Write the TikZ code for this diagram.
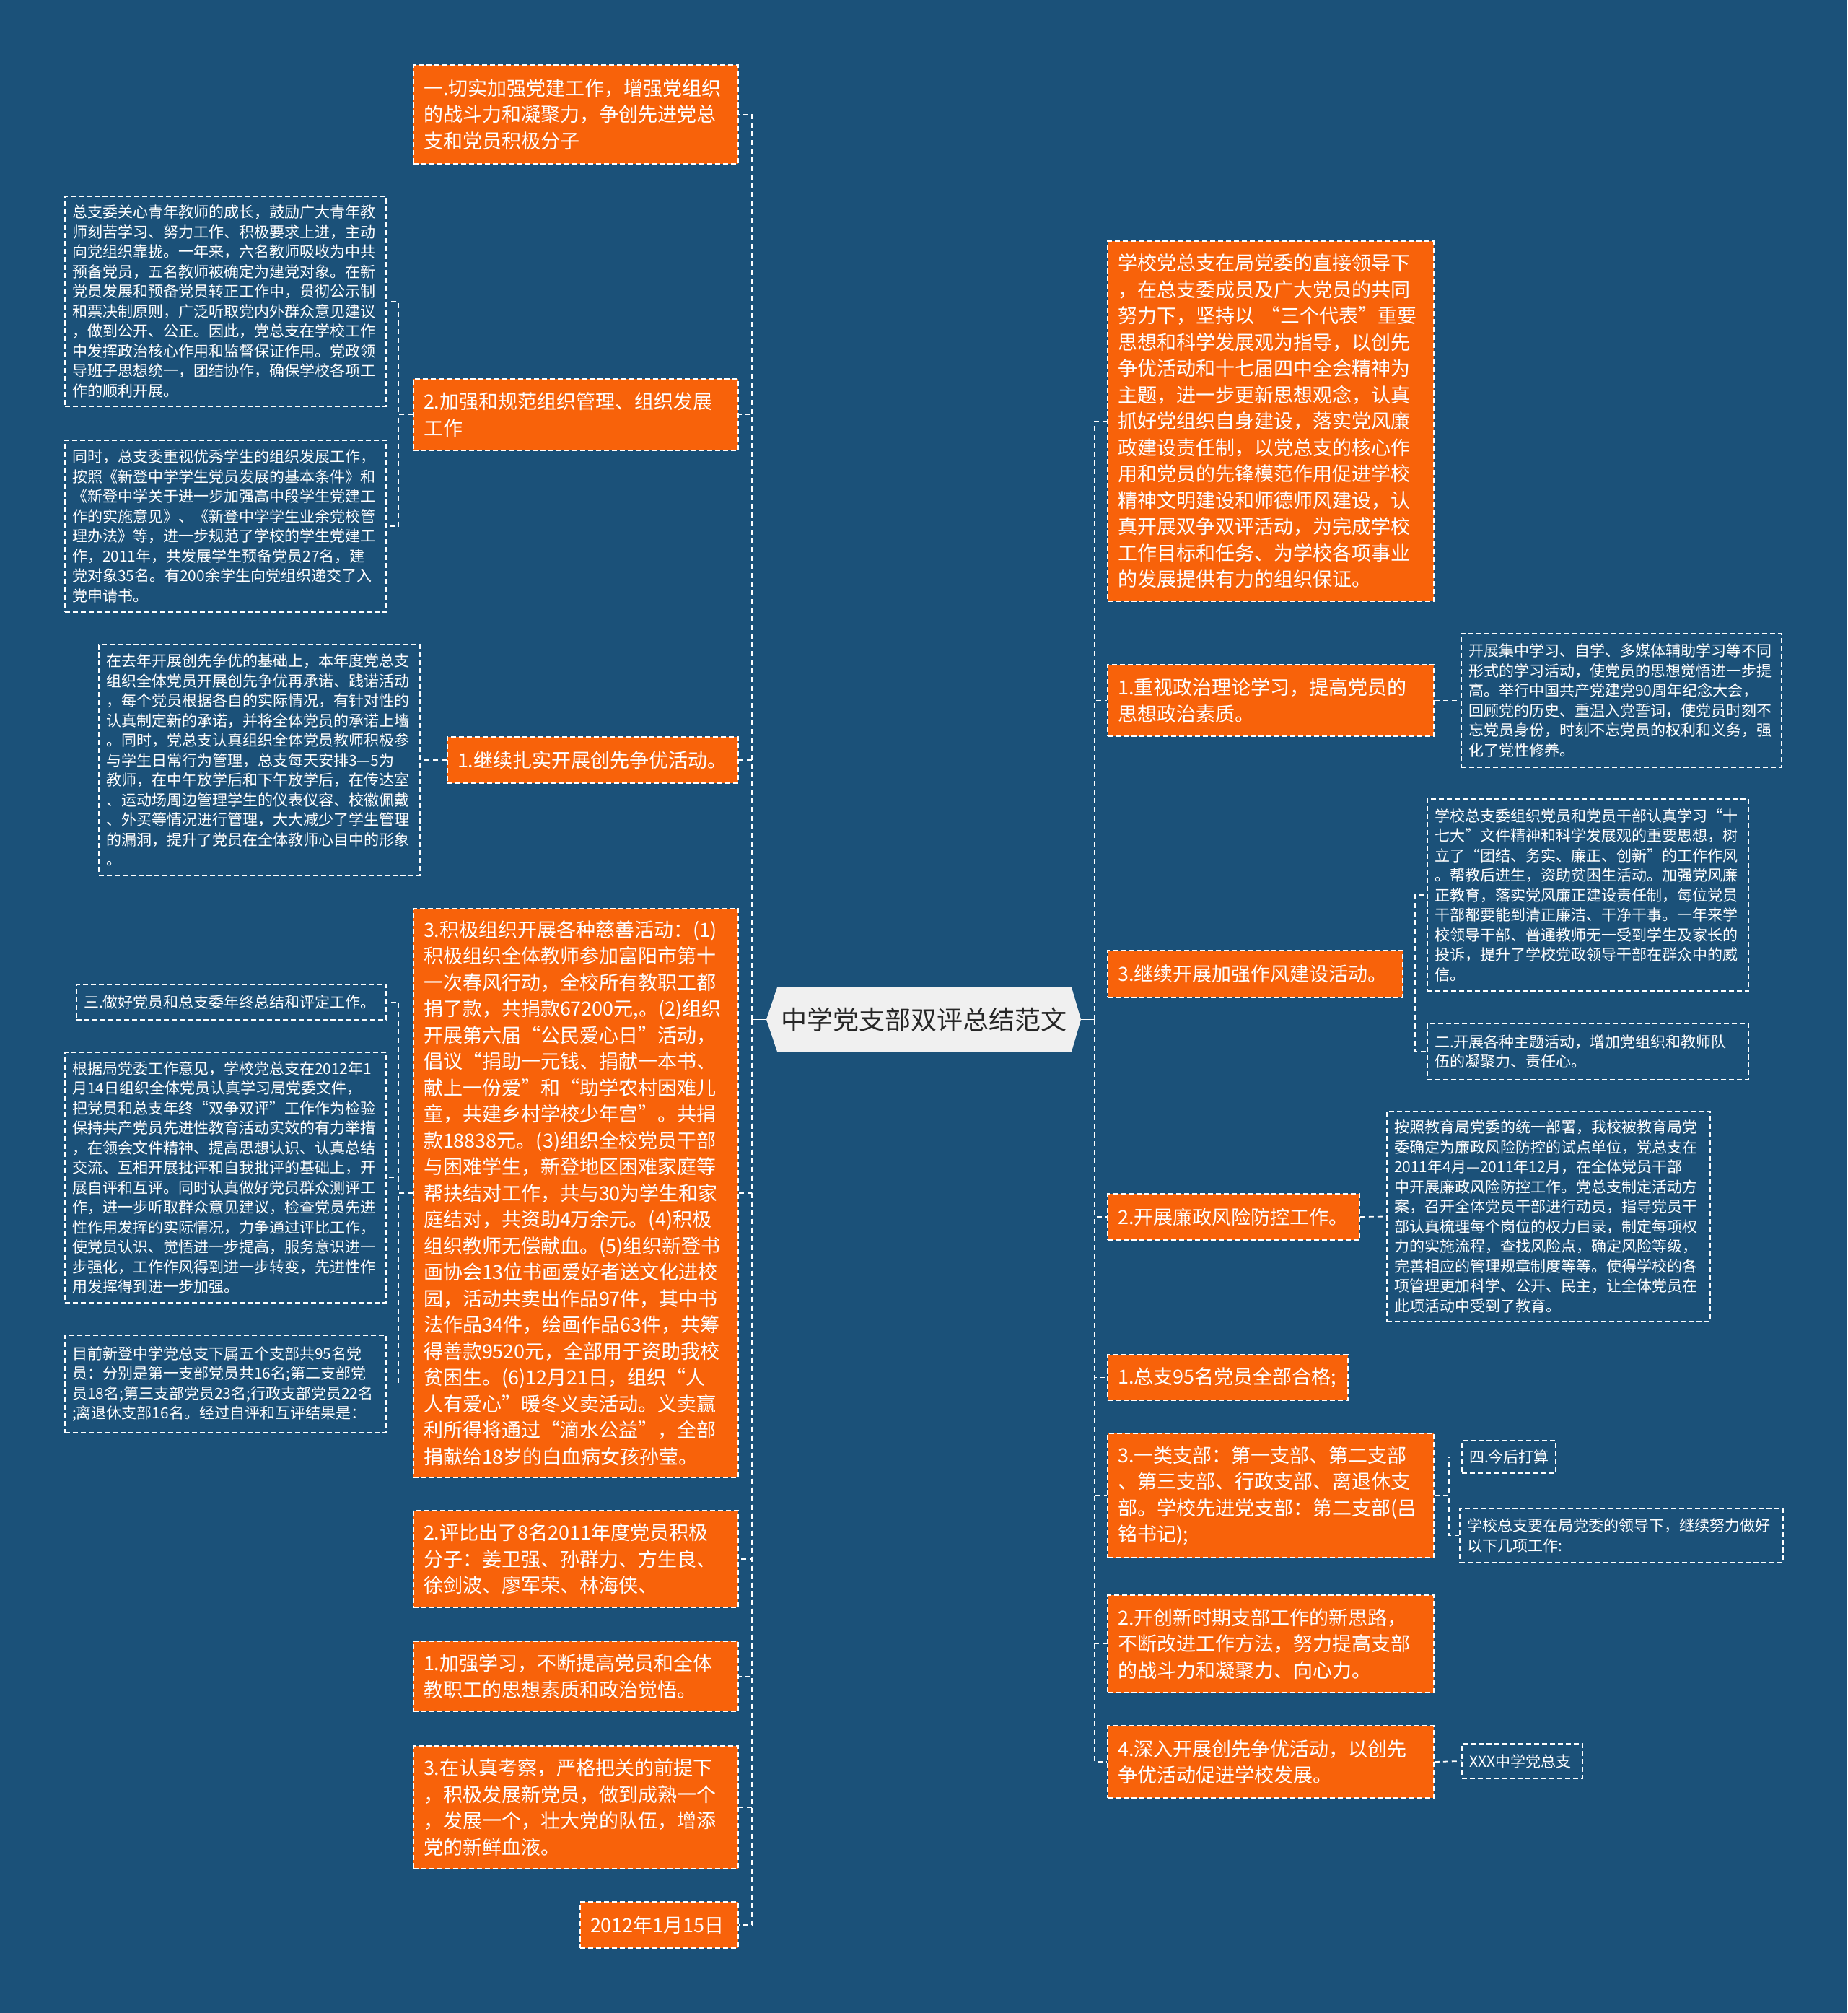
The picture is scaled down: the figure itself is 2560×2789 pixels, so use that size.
\documentclass[tikz,border=0pt]{standalone}
\usepackage{fontspec}
\setmainfont{Noto Sans CJK SC}
\definecolor{bgc}{HTML}{1B5179}
\definecolor{orc}{HTML}{F8620A}
\definecolor{rootc}{HTML}{F0F0F0}
\definecolor{roottext}{HTML}{262626}
\tikzset{
  conn/.style={draw=white, line width=1.8pt, dash pattern=on 7pt off 5pt},
  ob/.style={fill=orc, draw=white, line width=1.5pt, dash pattern=on 7pt off 4pt,
    text=white, font=\fontsize{27}{36.5}\selectfont, align=left, inner sep=0pt},
  sb/.style={draw=white, line width=1.5pt, dash pattern=on 7pt off 4pt,
    text=white, font=\fontsize{21}{27.5}\selectfont, align=left, inner sep=0pt},
}
\newcommand\orgbox[6]{%
  \pgfmathsetmacro\bxw{#4-#2}%
  \pgfmathsetmacro\bxh{#5-#3}%
  \pgfmathsetmacro\bxt{#4-#2-28}%
  \pgfmathsetmacro\bxcx{(#2+#4)/2}%
  \pgfmathsetmacro\bxcy{(#3+#5)/2}%
  \node[ob, minimum width=\bxw pt, minimum height=\bxh pt, text width=\bxt pt] (#1) at (\bxcx,\bxcy) {#6};}
\newcommand\txtbox[6]{%
  \pgfmathsetmacro\bxw{#4-#2}%
  \pgfmathsetmacro\bxh{#5-#3}%
  \pgfmathsetmacro\bxt{#4-#2-20}%
  \pgfmathsetmacro\bxcx{(#2+#4)/2}%
  \pgfmathsetmacro\bxcy{(#3+#5)/2}%
  \node[sb, minimum width=\bxw pt, minimum height=\bxh pt, text width=\bxt pt] (#1) at (\bxcx,\bxcy) {#6};}
\begin{document}
\begin{tikzpicture}[x=1pt,y=-1pt]
\fill[bgc] (0,0) rectangle (2560,2789);
\useasboundingbox (0,0) rectangle (2560,2789);

% root
\fill[rootc] (1062,1412.5) -- (1077,1368) -- (1485,1368) -- (1498,1412.5) -- (1485,1457) -- (1077,1457) -- cycle;
\node[minimum width=436pt, minimum height=89pt, inner sep=0pt, text=roottext,
  font=\fontsize{36}{42}\selectfont] (root) at (1280,1412.5) {中学党支部双评总结范文};
\coordinate (tl) at (1042,1412.5);
\coordinate (tr) at (1517,1412.5);

% left main nodes
\orgbox{L1}{573}{90}{1023}{227}{一.切实加强党建工作，增强党组织\\的战斗力和凝聚力，争创先进党总\\支和党员积极分子}
\orgbox{L2}{573}{525}{1023}{624}{2.加强和规范组织管理、组织发展\\工作}
\orgbox{L3}{620}{1021}{1023}{1085}{1.继续扎实开展创先争优活动。}
\orgbox{L4}{573}{1259}{1023}{2047}{3.积极组织开展各种慈善活动：(1)\\积极组织全体教师参加富阳市第十\\一次春风行动，全校所有教职工都\\捐了款，共捐款67200元,。(2)组织\\开展第六届“公民爱心日”活动，\\倡议“捐助一元钱、捐献一本书、\\献上一份爱”和“助学农村困难儿\\童，共建乡村学校少年宫”。共捐\\款18838元。(3)组织全校党员干部\\与困难学生，新登地区困难家庭等\\帮扶结对工作，共与30为学生和家\\庭结对，共资助4万余元。(4)积极\\组织教师无偿献血。(5)组织新登书\\画协会13位书画爱好者送文化进校\\园，活动共卖出作品97件，其中书\\法作品34件，绘画作品63件，共筹\\得善款9520元，全部用于资助我校\\贫困生。(6)12月21日，组织“人\\人有爱心”暖冬义卖活动。义卖赢\\利所得将通过“滴水公益”，全部\\捐献给18岁的白血病女孩孙莹。}
\orgbox{L5}{573}{2093}{1023}{2227}{2.评比出了8名2011年度党员积极\\分子：姜卫强、孙群力、方生良、\\徐剑波、廖军荣、林海侠、}
\orgbox{L6}{573}{2274}{1023}{2371}{1.加强学习，不断提高党员和全体\\教职工的思想素质和政治觉悟。}
\orgbox{L7}{573}{2419}{1023}{2589}{3.在认真考察，严格把关的前提下\\，积极发展新党员，做到成熟一个\\，发展一个，壮大党的队伍，增添\\党的新鲜血液。}
\orgbox{L8}{804}{2635}{1023}{2699}{2012年1月15日}

% left sub nodes
\txtbox{c1}{90}{272}{535}{563}{总支委关心青年教师的成长，鼓励广大青年教\\师刻苦学习、努力工作、积极要求上进，主动\\向党组织靠拢。一年来，六名教师吸收为中共\\预备党员，五名教师被确定为建党对象。在新\\党员发展和预备党员转正工作中，贯彻公示制\\和票决制原则，广泛听取党内外群众意见建议\\，做到公开、公正。因此，党总支在学校工作\\中发挥政治核心作用和监督保证作用。党政领\\导班子思想统一，团结协作，确保学校各项工\\作的顺利开展。}
\txtbox{c2}{90}{610}{535}{848}{同时，总支委重视优秀学生的组织发展工作，\\按照《新登中学学生党员发展的基本条件》和\\《新登中学关于进一步加强高中段学生党建工\\作的实施意见》、《新登中学学生业余党校管\\理办法》等，进一步规范了学校的学生党建工\\作，2011年，共发展学生预备党员27名，建\\党对象35名。有200余学生向党组织递交了入\\党申请书。}
\txtbox{c3}{137}{893}{582}{1213}{在去年开展创先争优的基础上，本年度党总支\\组织全体党员开展创先争优再承诺、践诺活动\\，每个党员根据各自的实际情况，有针对性的\\认真制定新的承诺，并将全体党员的承诺上墙\\。同时，党总支认真组织全体党员教师积极参\\与学生日常行为管理，总支每天安排3—5为\\教师，在中午放学后和下午放学后，在传达室\\、运动场周边管理学生的仪表仪容、校徽佩戴\\、外买等情况进行管理，大大减少了学生管理\\的漏洞，提升了党员在全体教师心目中的形象\\。}
\txtbox{cA}{106}{1364}{535}{1413}{三.做好党员和总支委年终总结和评定工作。}
\txtbox{cB}{90}{1458}{535}{1805}{根据局党委工作意见，学校党总支在2012年1\\月14日组织全体党员认真学习局党委文件，\\把党员和总支年终“双争双评”工作作为检验\\保持共产党员先进性教育活动实效的有力举措\\，在领会文件精神、提高思想认识、认真总结\\交流、互相开展批评和自我批评的基础上，开\\展自评和互评。同时认真做好党员群众测评工\\作，进一步听取群众意见建议，检查党员先进\\性作用发挥的实际情况，力争通过评比工作，\\使党员认识、觉悟进一步提高，服务意识进一\\步强化，工作作风得到进一步转变，先进性作\\用发挥得到进一步加强。}
\txtbox{cC}{90}{1850}{535}{1985}{目前新登中学党总支下属五个支部共95名党\\员：分别是第一支部党员共16名;第二支部党\\员18名;第三支部党员23名;行政支部党员22名\\;离退休支部16名。经过自评和互评结果是：}

% right main nodes
\orgbox{R1}{1535}{334}{1987}{833}{学校党总支在局党委的直接领导下\\，在总支委成员及广大党员的共同\\努力下，坚持以~“三个代表”重要\\思想和科学发展观为指导，以创先\\争优活动和十七届四中全会精神为\\主题，进一步更新思想观念，认真\\抓好党组织自身建设，落实党风廉\\政建设责任制，以党总支的核心作\\用和党员的先锋模范作用促进学校\\精神文明建设和师德师风建设，认\\真开展双争双评活动，为完成学校\\工作目标和任务、为学校各项事业\\的发展提供有力的组织保证。}
\orgbox{R2}{1535}{921}{1987}{1020}{1.重视政治理论学习，提高党员的\\思想政治素质。}
\orgbox{R3}{1535}{1317}{1944}{1382}{3.继续开展加强作风建设活动。}
\orgbox{R4}{1535}{1654}{1884}{1718}{2.开展廉政风险防控工作。}
\orgbox{R5}{1535}{1877}{1868}{1940}{1.总支95名党员全部合格;}
\orgbox{R6}{1535}{1986}{1987}{2158}{3.一类支部：第一支部、第二支部\\、第三支部、行政支部、离退休支\\部。学校先进党支部：第二支部(吕\\铭书记);}
\orgbox{R7}{1535}{2210}{1987}{2345}{2.开创新时期支部工作的新思路，\\不断改进工作方法，努力提高支部\\的战斗力和凝聚力、向心力。}
\orgbox{R8}{1535}{2391}{1987}{2491}{4.深入开展创先争优活动，以创先\\争优活动促进学校发展。}

% right sub nodes
\txtbox{R2c}{2025}{878}{2469}{1063}{开展集中学习、自学、多媒体辅助学习等不同\\形式的学习活动，使党员的思想觉悟进一步提\\高。举行中国共产党建党90周年纪念大会，\\回顾党的历史、重温入党誓词，使党员时刻不\\忘党员身份，时刻不忘党员的权利和义务，强\\化了党性修养。}
\txtbox{R3a}{1978}{1107}{2423}{1373}{学校总支委组织党员和党员干部认真学习“十\\七大”文件精神和科学发展观的重要思想，树\\立了“团结、务实、廉正、创新”的工作作风\\。帮教后进生，资助贫困生活动。加强党风廉\\正教育，落实党风廉正建设责任制，每位党员\\干部都要能到清正廉洁、干净干事。一年来学\\校领导干部、普通教师无一受到学生及家长的\\投诉，提升了学校党政领导干部在群众中的威\\信。}
\txtbox{R3b}{1978}{1418}{2423}{1496}{二.开展各种主题活动，增加党组织和教师队\\伍的凝聚力、责任心。}
\txtbox{R4c}{1922}{1540}{2370}{1831}{按照教育局党委的统一部署，我校被教育局党\\委确定为廉政风险防控的试点单位，党总支在\\2011年4月—2011年12月，在全体党员干部\\中开展廉政风险防控工作。党总支制定活动方\\案，召开全体党员干部进行动员，指导党员干\\部认真梳理每个岗位的权力目录，制定每项权\\力的实施流程，查找风险点，确定风险等级，\\完善相应的管理规章制度等等。使得学校的各\\项管理更加科学、公开、民主，让全体党员在\\此项活动中受到了教育。}
\txtbox{R6a}{2026}{1996}{2156}{2041}{四.今后打算}
\txtbox{R6b}{2023}{2090}{2471}{2165}{学校总支要在局党委的领导下，继续努力做好\\以下几项工作:}
\txtbox{R8c}{2026}{2416}{2193}{2464}{XXX中学党总支}

% connectors: root to trunks
\draw[white, line width=1.8pt] (root.west) -- (tl);
\draw[white, line width=1.8pt] (root.east) -- (tr);
\foreach \n in {L1,L2,L3,L4,L5,L6,L7,L8}
  \draw[conn] (tl) |- (\n.east);
\foreach \n in {R1,R2,R3,R4,R5,R6,R7,R8}
  \draw[conn] (tr) |- (\n.west);

% sub connectors
\draw[conn] (L2.west) -- ++(-20,0) |- (c1.east);
\draw[conn] (L2.west) -- ++(-20,0) |- (c2.east);
\draw[conn] (L3.west) -- (c3.east);
\draw[conn] (L4.west) -- ++(-20,0) |- (cA.east);
\draw[conn] (L4.west) -- ++(-20,0) |- (cB.east);
\draw[conn] (L4.west) -- ++(-20,0) |- (cC.east);
\draw[conn] (R2.east) -- (R2c.west);
\draw[conn] (R3.east) -- ++(16,0) |- (R3a.west);
\draw[conn] (R3.east) -- ++(16,0) |- (R3b.west);
\draw[conn] (R4.east) -- (R4c.west);
\draw[conn] (R6.east) -- ++(20,0) |- (R6a.west);
\draw[conn] (R6.east) -- ++(20,0) |- (R6b.west);
\draw[conn] (R8.east) -- (R8c.west);
\end{tikzpicture}
\end{document}
